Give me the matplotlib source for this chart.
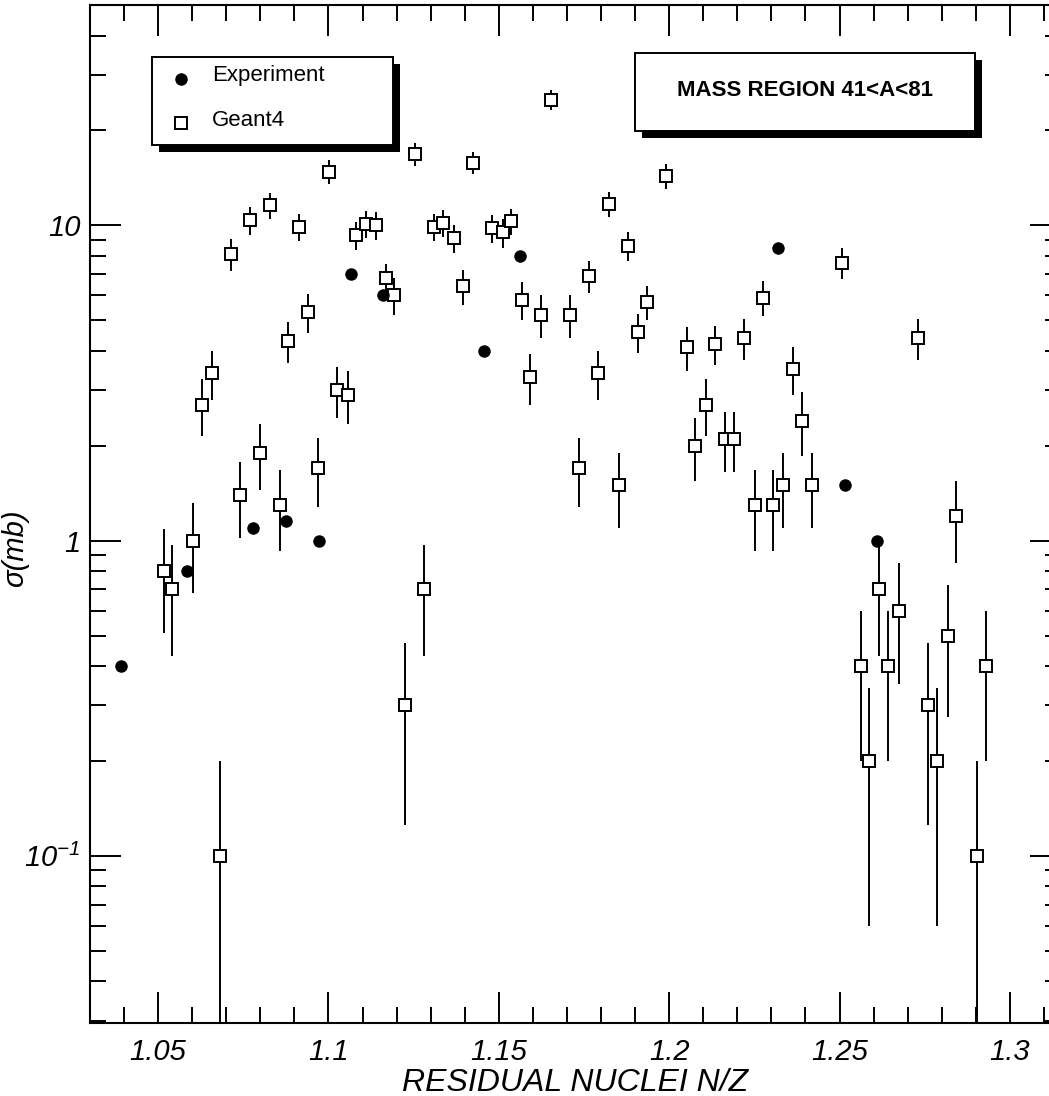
import numpy as np
import matplotlib
matplotlib.use("Agg")
from matplotlib import pyplot as plt, rcParams
from matplotlib.patches import Rectangle
from matplotlib.lines import Line2D
from matplotlib.ticker import FixedLocator, MultipleLocator, LogLocator, NullFormatter

# Geant4 residual nuclei cross sections (N/Z, sigma in mb, error in mb)
g4_nz = [1.0516, 1.0540, 1.0602, 1.0628, 1.0657, 1.0683, 1.0715, 1.0739, 1.0771, 1.0800,
         1.0827, 1.0857, 1.0882, 1.0913, 1.0939, 1.0969, 1.1001, 1.1025, 1.1056, 1.1081,
         1.1110, 1.1140, 1.1169, 1.1193, 1.1225, 1.1255, 1.1281, 1.1311, 1.1335, 1.1367,
         1.1394, 1.1423, 1.1480, 1.1511, 1.1536, 1.1567, 1.1592, 1.1624, 1.1653, 1.1710,
         1.1734, 1.1766, 1.1792, 1.1822, 1.1852, 1.1878, 1.1909, 1.1934, 1.1991, 1.2052,
         1.2077, 1.2108, 1.2133, 1.2164, 1.2189, 1.2220, 1.2251, 1.2276, 1.2306, 1.2333,
         1.2362, 1.2389, 1.2419, 1.2507, 1.2562, 1.2587, 1.2617, 1.2643, 1.2674, 1.2731,
         1.2761, 1.2787, 1.2817, 1.2843, 1.2904, 1.2930]
g4_sigma = [0.8, 0.7, 1.0, 2.7, 3.4, 0.1, 8.1, 1.4, 10.4, 1.9,
            11.6, 1.3, 4.3, 9.9, 5.3, 1.7, 14.8, 3.0, 2.9, 9.3,
            10.1, 10.0, 6.8, 6.0, 0.3, 16.8, 0.7, 9.9, 10.2, 9.1,
            6.4, 15.8, 9.8, 9.5, 10.3, 5.8, 3.3, 5.2, 25.0, 5.2,
            1.7, 6.9, 3.4, 11.7, 1.5, 8.6, 4.6, 5.7, 14.3, 4.1,
            2.0, 2.7, 4.2, 2.1, 2.1, 4.4, 1.3, 5.9, 1.3, 1.5,
            3.5, 2.4, 1.5, 7.6, 0.4, 0.2, 0.7, 0.4, 0.6, 4.4,
            0.3, 0.2, 0.5, 1.2, 0.1, 0.4]
g4_err = [0.29, 0.27, 0.32, 0.55, 0.6, 0.1, 0.95, 0.38, 1.05, 0.45,
          1.1, 0.37, 0.65, 1.0, 0.75, 0.42, 1.3, 0.55, 0.55, 0.95,
          1.0, 1.0, 0.75, 0.8, 0.175, 1.4, 0.27, 1.0, 1.0, 0.95,
          0.8, 1.3, 1.0, 1.0, 1.0, 0.8, 0.6, 0.8, 1.8, 0.8,
          0.42, 0.8, 0.6, 1.1, 0.4, 0.9, 0.65, 0.7, 1.3, 0.65,
          0.45, 0.55, 0.6, 0.45, 0.45, 0.65, 0.37, 0.75, 0.37, 0.4,
          0.6, 0.55, 0.4, 0.85, 0.2, 0.14, 0.27, 0.2, 0.25, 0.65,
          0.175, 0.14, 0.225, 0.35, 0.1, 0.2]

# measured cross sections
exp_nz = [1.0391, 1.0584, 1.0778, 1.0876, 1.0973, 1.1066, 1.1161, 1.1455, 1.1562,
          1.2320, 1.2516, 1.2609]
exp_sigma = [0.4, 0.8, 1.1, 1.15, 1.0, 7.0, 6.0, 4.0, 8.0, 8.5, 1.5, 1.0]

xticks = [1.05, 1.1, 1.15, 1.2, 1.25, 1.3]
xticklabels = ["1.05", "1.1", "1.15", "1.2", "1.25", "1.3"]
yticks = [0.1, 1, 10]
yticklabels = [r"$\mathit{10^{-1}}$", "1", "10"]

rcParams.update({
    "font.family": ["Liberation Sans", "DejaVu Sans"],
    "mathtext.fontset": "custom",
    "mathtext.rm": "Liberation Sans:italic",
    "mathtext.it": "Liberation Sans:italic",
    "mathtext.default": "it",
})

W, H = 1049, 1096
fig = plt.figure(figsize=(W / 100, H / 100), dpi=100)
# right spine sits just past the image edge
ax = fig.add_axes([90 / W, 1 - 1023 / H, (1061 - 90) / W, (1023 - 5) / H])

ax.set_yscale("log")
ax.set_xlim(1.03, 1.315)
ax.set_ylim(0.0295, 50)

ax.errorbar(g4_nz, g4_sigma, yerr=g4_err, fmt="none", ecolor="black",
            elinewidth=1.4, capsize=0, zorder=2)
ax.plot(g4_nz, g4_sigma, ls="none", marker="s", ms=9.2, mfc="white",
        mec="black", mew=1.4, zorder=3)
ax.plot(exp_nz, exp_sigma, ls="none", marker="o", ms=9, mfc="black",
        mec="black", mew=0, zorder=4)

for sp in ax.spines.values():
    sp.set_linewidth(1.5)

ax.xaxis.set_major_locator(FixedLocator(xticks))
ax.set_xticklabels(xticklabels)
ax.xaxis.set_minor_locator(MultipleLocator(0.01))
ax.yaxis.set_major_locator(FixedLocator(yticks))
ax.set_yticklabels(yticklabels)
ax.yaxis.set_minor_locator(LogLocator(base=10, subs=np.arange(2, 10)))
ax.yaxis.set_minor_formatter(NullFormatter())

ax.tick_params(which="both", direction="in", top=True, right=True, width=1.4)
ax.tick_params(which="major", length=22.5)
ax.tick_params(which="minor", length=11.5)
ax.tick_params(axis="x", which="major", pad=11, labelsize=21)
ax.tick_params(axis="y", which="major", pad=7, labelsize=21)
for lab in ax.get_xticklabels() + ax.get_yticklabels():
    lab.set_fontstyle("italic")

ax.set_xlabel("RESIDUAL NUCLEI N/Z", fontsize=23, style="italic", labelpad=1)
ax.set_ylabel("σ(mb)", fontsize=21, style="italic")
ax.yaxis.set_label_coords(29 / W, 0.5, transform=fig.transFigure)
ax.yaxis.label.set_horizontalalignment("center")


def px(x, y):
    return x / W, 1 - y / H


def shadow_box(x0, y0, x1, y1, off=7):
    sx, sy = px(x0 + off, y1 + off)
    bx, by = px(x0, y1)
    w, h = (x1 - x0) / W, (y1 - y0) / H
    fig.add_artist(Rectangle((sx, sy), w, h, transform=fig.transFigure,
                             facecolor="black", edgecolor="black", lw=0, zorder=5))
    fig.add_artist(Rectangle((bx, by), w, h, transform=fig.transFigure,
                             facecolor="white", edgecolor="black", lw=1.4, zorder=6))


def key_marker(x, y, **kw):
    fx, fy = px(x, y)
    fig.add_artist(Line2D([fx], [fy], transform=fig.transFigure, ls="none",
                          zorder=7, **kw))


# legend
shadow_box(152, 57, 393, 145)
key_marker(181, 79, marker="o", ms=9, mfc="black", mec="black", mew=0)
key_marker(181, 123, marker="s", ms=9.2, mfc="white", mec="black", mew=1.4)
fig.text(*px(212, 75), "Experiment", fontsize=16, va="center", ha="left", zorder=7)
fig.text(*px(212, 120), "Geant4", fontsize=16, va="center", ha="left", zorder=7)

# mass region tag
shadow_box(635, 53, 975, 131)
fig.text(*px(805, 91), "MASS REGION 41<A<81", fontsize=16, fontweight="bold",
         va="center", ha="center", zorder=7)

fig.savefig("out.png", dpi=100)
